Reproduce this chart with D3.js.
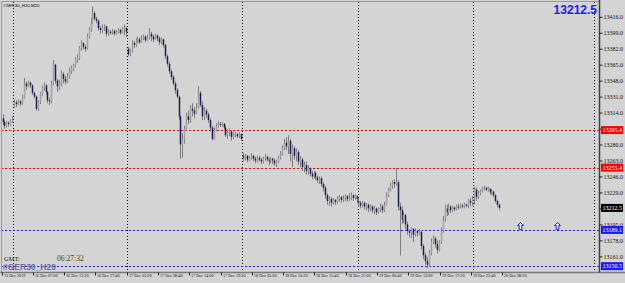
<!DOCTYPE html>
<html><head><meta charset="utf-8">
<script src="https://cdn.jsdelivr.net/npm/d3@7"></script>
<style>html,body{margin:0;padding:0;background:#d4d4d4;overflow:hidden}svg{display:block}</style>
</head><body><svg id="c" width="625" height="283"></svg>
<script>
const opens = [
13308,13304,13300,13303,13302,13305,13320,13325,13323,13326,
13324,13330,13345,13342,13346,13343,13335,13331,13318,13325,
13334,13340,13343,13336,13327,13326,13345,13365,13348,13342,
13345,13355,13350,13347,13352,13358,13361,13364,13370,13372,
13383,13388,13384,13382,13395,13402,13410,13420,13414,13412,
13404,13402,13405,13406,13398,13400,13399,13401,13398,13400,
13402,13399,13403,13404,13382,13376,13380,13388,13386,13390,
13392,13389,13393,13395,13391,13394,13398,13395,13392,13396,
13393,13389,13392,13386,13374,13366,13358,13352,13345,13338,
13331,13310,13280,13286,13297,13310,13306,13318,13316,13313,
13320,13335,13322,13310,13316,13312,13306,13298,13286,13295,
13300,13302,13301,13302,13298,13290,13292,13294,13288,13290,
13291,13289,13291,13268,13266,13268,13264,13266,13268,13265,
13263,13266,13264,13262,13265,13267,13264,13262,13265,13263,
13260,13262,13266,13270,13276,13282,13278,13284,13270,13276,
13268,13272,13262,13264,13256,13258,13252,13255,13249,13246,
13250,13245,13242,13244,13238,13234,13226,13220,13222,13218,
13221,13219,13222,13224,13221,13223,13225,13222,13224,13226,
13223,13225,13220,13218,13215,13218,13214,13216,13212,13214,
13210,13212,13208,13211,13214,13210,13216,13226,13232,13236,
13240,13238,13240,13214,13210,13200,13205,13195,13188,13186,
13190,13184,13188,13186,13187,13172,13162,13156,13152,13164,
13176,13180,13174,13168,13176,13188,13200,13212,13208,13214,
13210,13213,13211,13214,13213,13215,13214,13216,13215,13220,
13218,13224,13232,13224,13228,13230,13233,13234,13232,13233,
13229,13230,13226,13220,13216];
const highs = [
13312,13306,13305,13305,13307,13310,13328,13327,13328,13327,
13333,13351,13347,13348,13347,13344,13336,13332,13327,13336,
13343,13346,13344,13337,13330,13348,13370,13366,13350,13349,
13359,13357,13353,13356,13362,13364,13366,13373,13376,13385,
13391,13389,13386,13398,13405,13415,13427,13422,13416,13413,
13406,13408,13408,13406,13403,13402,13403,13402,13402,13404,
13403,13405,13408,13406,13384,13382,13391,13390,13393,13395,
13394,13396,13397,13396,13397,13404,13400,13397,13398,13397,
13395,13394,13393,13387,13376,13368,13360,13354,13347,13340,
13332,13311,13292,13300,13314,13316,13322,13324,13320,13324,
13342,13337,13326,13320,13318,13314,13308,13300,13298,13303,
13305,13304,13304,13303,13300,13296,13297,13295,13293,13293,
13292,13293,13292,13271,13270,13269,13268,13271,13269,13267,
13268,13268,13266,13267,13270,13268,13266,13267,13266,13265,
13264,13268,13273,13279,13286,13288,13290,13286,13280,13278,
13276,13274,13268,13266,13262,13262,13258,13256,13252,13252,
13251,13247,13246,13246,13240,13236,13228,13225,13224,13223,
13222,13225,13226,13225,13226,13227,13226,13228,13229,13227,
13227,13226,13223,13220,13220,13219,13218,13217,13216,13215,
13215,13213,13213,13217,13216,13219,13229,13234,13239,13242,
13243,13255,13242,13218,13214,13208,13206,13198,13190,13192,
13191,13191,13189,13190,13189,13174,13165,13160,13168,13180,
13183,13182,13178,13178,13192,13204,13216,13216,13217,13215,
13215,13214,13216,13217,13217,13217,13218,13217,13222,13223,
13225,13235,13234,13231,13232,13235,13236,13235,13235,13233,
13232,13231,13227,13221,13217];
const lows = [
13301,13297,13298,13299,13300,13303,13319,13320,13322,13321,
13322,13329,13338,13341,13340,13333,13329,13316,13316,13323,
13332,13337,13333,13324,13322,13324,13343,13345,13336,13338,
13342,13345,13344,13345,13350,13355,13358,13362,13367,13370,
13380,13381,13379,13381,13393,13400,13408,13412,13409,13401,
13398,13399,13401,13395,13396,13397,13397,13396,13397,13398,
13397,13398,13396,13394,13374,13374,13378,13383,13384,13388,
13387,13388,13391,13389,13390,13392,13390,13389,13391,13390,
13386,13387,13383,13371,13363,13355,13349,13343,13334,13329,
13306,13265,13266,13281,13294,13302,13303,13310,13308,13312,
13318,13320,13306,13306,13308,13303,13294,13284,13285,13294,
13298,13299,13299,13296,13288,13286,13289,13284,13286,13288,
13287,13287,13284,13262,13263,13261,13262,13264,13262,13260,
13261,13262,13259,13260,13263,13262,13258,13260,13259,13257,
13256,13260,13264,13268,13274,13274,13270,13262,13256,13264,
13262,13258,13256,13252,13250,13248,13248,13246,13243,13244,
13242,13239,13238,13235,13230,13222,13216,13215,13214,13216,
13216,13217,13219,13218,13219,13220,13219,13220,13221,13220,
13221,13218,13214,13212,13213,13211,13210,13208,13209,13207,
13206,13205,13206,13208,13207,13208,13215,13224,13230,13233,
13234,13236,13210,13162,13196,13196,13190,13184,13181,13180,
13176,13182,13182,13184,13168,13158,13152,13148,13150,13162,
13174,13170,13164,13166,13174,13186,13198,13204,13205,13207,
13208,13209,13210,13211,13212,13212,13212,13213,13212,13214,
13215,13216,13220,13222,13226,13229,13231,13230,13230,13227,
13226,13224,13218,13213,13210];
const closes = [
13304,13300,13303,13302,13305,13306,13325,13323,13326,13324,
13330,13345,13342,13346,13343,13335,13331,13318,13325,13334,
13340,13343,13336,13327,13326,13345,13365,13348,13342,13345,
13355,13350,13347,13352,13358,13361,13364,13370,13372,13383,
13388,13384,13382,13395,13402,13410,13420,13414,13412,13404,
13402,13405,13406,13398,13400,13399,13401,13398,13400,13402,
13399,13403,13404,13400,13376,13380,13388,13386,13390,13392,
13389,13393,13395,13391,13394,13398,13395,13392,13396,13393,
13389,13392,13386,13374,13366,13358,13352,13345,13338,13331,
13310,13280,13286,13297,13310,13306,13318,13316,13313,13320,
13335,13322,13310,13316,13312,13306,13298,13286,13295,13300,
13302,13301,13302,13298,13290,13292,13294,13288,13290,13291,
13289,13291,13286,13266,13268,13264,13266,13268,13265,13263,
13266,13264,13262,13265,13267,13264,13262,13265,13263,13260,
13262,13266,13270,13276,13282,13278,13284,13270,13276,13268,
13272,13262,13264,13256,13258,13252,13255,13249,13246,13250,
13245,13242,13244,13238,13234,13226,13220,13222,13218,13221,
13219,13222,13224,13221,13223,13225,13222,13224,13226,13223,
13225,13222,13218,13215,13218,13214,13216,13212,13214,13210,
13212,13208,13211,13214,13210,13216,13226,13232,13236,13240,
13238,13240,13214,13210,13200,13205,13195,13188,13186,13190,
13184,13188,13186,13187,13172,13162,13156,13152,13164,13176,
13180,13174,13168,13176,13188,13200,13212,13208,13214,13210,
13213,13211,13214,13213,13215,13214,13216,13215,13220,13218,
13222,13232,13224,13228,13230,13233,13234,13232,13233,13229,
13230,13226,13220,13216,13212.5];
const timeLabels = ["13 Dec 2019","16 Dec 07:00","16 Dec 12:20","16 Dec 17:40","17 Dec 03:20","17 Dec 08:40","17 Dec 14:00","17 Dec 19:20","18 Dec 05:00","18 Dec 10:20","18 Dec 15:40","18 Dec 21:00","19 Dec 06:40","19 Dec 12:00","19 Dec 17:20","19 Dec 22:40","20 Dec 08:20"];
const timeLabelBars = [0,16,32,48,64,80,96,112,128,144,160,176,192,208,224,240,256];
const priceTicks = [13416,13399,13382,13365,13348,13331,13314,13297,13280,13263,13246,13229,13212,13195,13178,13161];
const redLevels = [13295.4, 13255.4];
const blueLevels = [13189.1, 13150.5];
const currentPrice = 13212.5;
const daySeparators = [5.5, 63.5, 122.5, 181.5, 240.5, 302.5];
const arrowBars = [264.5, 283.5];
const chartTitle = "#GER30_H20,M20";
const symbolName = "#GER30_H20";
const gmtLabel = "GMT:";
const gmtTime = "06:27:32";

const W = 625, H = 283, plotRight = 599.5, plotBottom = 272.5;
const svg = d3.select("#c");
const x = d3.scaleLinear().domain([0, 306]).range([2.5, 2.5 + 306 * 1.956]);
const y = d3.scaleLinear().domain([13161, 13416]).range([256.3, 16.8]);

svg.append("rect").attr("width", W).attr("height", H).attr("fill", "#d4d4d4");

// day separators
svg.append("g").selectAll("line").data(daySeparators).join("line")
  .attr("x1", d => Math.round(x(d)) + 0.5).attr("x2", d => Math.round(x(d)) + 0.5)
  .attr("y1", 2).attr("y2", plotBottom)
  .attr("stroke", "#111").attr("stroke-width", 1).attr("stroke-dasharray", "1,2");

// level lines
const levels = redLevels.map(v => ({v, c: "#ff0000", bg: "#ff0000"}))
  .concat(blueLevels.map(v => ({v, c: "#2020ff", bg: "#1a1aff"})));
svg.append("g").selectAll("line").data(levels).join("line")
  .attr("x1", 1).attr("x2", plotRight)
  .attr("y1", d => Math.round(y(d.v)) + 0.5).attr("y2", d => Math.round(y(d.v)) + 0.5)
  .attr("stroke", d => d.c).attr("stroke-width", 1).attr("stroke-dasharray", "2,2");

// candles
const bars = d3.range(closes.length).map(i => ({i, o: opens[i], h: highs[i], l: lows[i], c: closes[i]}));
const cg = svg.append("g");
cg.selectAll("line").data(bars).join("line")
  .attr("x1", d => Math.round(x(d.i)) + 0.5).attr("x2", d => Math.round(x(d.i)) + 0.5)
  .attr("y1", d => y(Math.max(d.h, d.o, d.c))).attr("y2", d => y(Math.min(d.l, d.o, d.c)))
  .attr("stroke", "#7e7e7e").attr("stroke-width", 1);
cg.selectAll("rect").data(bars).join("rect")
  .attr("x", d => Math.round(x(d.i)) - 0.25)
  .attr("width", 1.5)
  .attr("y", d => y(Math.max(d.o, d.c)))
  .attr("height", d => Math.max(1, Math.abs(y(d.o) - y(d.c))))
  .attr("fill", d => d.c >= d.o ? "#a2a2a2" : "#1c1c50");

// arrows
const ay = Math.round(y(blueLevels[0]));
svg.append("g").selectAll("path").data(arrowBars).join("path")
  .attr("d", d => {
    const cx = Math.round(x(d)) + 0.5, b = ay - 0.5;
    return `M${cx},${b-7} L${cx+3},${b-4} L${cx+1.3},${b-4} L${cx+1.3},${b} L${cx-1.3},${b} L${cx-1.3},${b-4} L${cx-3},${b-4} Z`;
  })
  .attr("fill", "#f0f0f0").attr("stroke", "#2020ff").attr("stroke-width", 1);

// frame
svg.append("line").attr("x1", 1.5).attr("x2", 1.5).attr("y1", 1).attr("y2", plotBottom).attr("stroke", "#9a9a9a");
svg.append("line").attr("x1", 1).attr("x2", plotRight).attr("y1", 1.5).attr("y2", 1.5).attr("stroke", "#9a9a9a");
svg.append("line").attr("x1", 0).attr("x2", W).attr("y1", plotBottom).attr("y2", plotBottom).attr("stroke", "#7a7a7a").attr("stroke-width", 1.5);
svg.append("line").attr("x1", plotRight).attr("x2", plotRight).attr("y1", 0).attr("y2", plotBottom).attr("stroke", "#404040").attr("stroke-width", 1.5);

// price axis
const ya = svg.append("g").attr("transform", `translate(${plotRight},0)`)
  .call(d3.axisRight(y).tickValues(priceTicks).tickFormat(d3.format(".1f")).tickSize(3).tickPadding(1));
ya.select(".domain").remove();
ya.selectAll("line").attr("stroke", "#222");
ya.selectAll("text").attr("font-family", "Liberation Serif").attr("font-size", "6px").attr("fill", "#111");

// time axis
const xa = svg.append("g").attr("transform", `translate(0,${plotBottom})`)
  .call(d3.axisBottom(x).tickValues(timeLabelBars).tickFormat((d, i) => timeLabels[i]).tickSize(3).tickPadding(1));
xa.select(".domain").remove();
xa.selectAll(".tick").attr("transform", d => `translate(${Math.round(x(d)) - 0.5},0)`);
xa.selectAll("line").attr("stroke", "#222");
xa.selectAll("text").attr("text-anchor", "start").attr("dx", "1.5").attr("dy", "0.1em")
  .attr("font-family", "Liberation Serif").attr("font-size", "4.2px").attr("fill", "#111");

// highlighted price labels
const hl = levels.concat([{v: currentPrice, c: "#000", bg: "#000"}]);
const hg = svg.append("g").selectAll("g").data(hl).join("g");
hg.append("rect").attr("x", 601).attr("y", d => y(d.v) - 4).attr("width", 22).attr("height", 8).attr("fill", d => d.bg);
hg.append("text").attr("x", 602.5).attr("y", d => y(d.v) + 2.2).text(d => d3.format(".1f")(d.v))
  .attr("font-family", "Liberation Serif").attr("font-size", "6px").attr("fill", "#fff");

// texts
svg.append("text").attr("x", 3).attr("y", 7).text(chartTitle)
  .attr("font-family", "Liberation Sans").attr("font-size", "4.3px").attr("fill", "#000");
svg.append("text").attr("x", 597).attr("y", 14).attr("text-anchor", "end").text(d3.format(".1f")(currentPrice))
  .attr("font-family", "Liberation Sans").attr("font-weight", "bold").attr("font-size", "12px").attr("fill", "#1a1aff");
svg.append("text").attr("x", 4).attr("y", 260.5).text(gmtLabel)
  .attr("font-family", "Liberation Serif").attr("font-size", "6.5px").attr("fill", "#222");
svg.append("text").attr("x", 57).attr("y", 260.5).text(gmtTime)
  .attr("font-family", "Liberation Serif").attr("font-size", "7.5px").attr("fill", "#5a3a10");
svg.append("text").attr("x", 3).attr("y", 270).text(symbolName)
  .attr("font-family", "Liberation Sans").attr("font-weight", "bold").attr("font-size", "8.5px").attr("fill", "#6a6a98");
</script></body></html>
